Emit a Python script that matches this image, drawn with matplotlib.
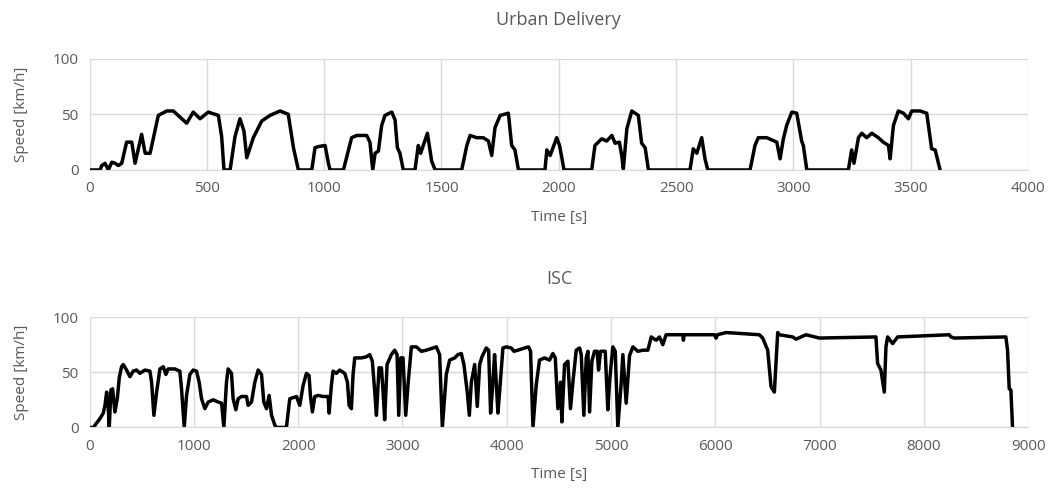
import numpy as np
import matplotlib.pyplot as plt

# ======================================================
# DADOS
# ======================================================
t_urban = [0, 45, 52, 66, 80, 95, 109, 123, 137, 158, 180, 194, 222, 237, 258, 293, 329, 357,
           414, 442, 471, 506, 549, 563, 573, 599, 620, 641, 658, 670, 698, 734, 769, 812,
           847, 869, 890, 947, 961, 975, 1004, 1018, 1025, 1082, 1117, 1139, 1181, 1195, 1207,
           1217, 1231, 1245, 1259, 1288, 1302, 1312, 1323, 1337, 1387, 1401, 1411, 1440, 1458,
           1473, 1586, 1608, 1622, 1650, 1678, 1700, 1714, 1728, 1750, 1785, 1799, 1813, 1828,
           1941, 1949, 1963, 1991, 2003, 2012, 2022, 2140, 2154, 2183, 2204, 2226, 2240, 2258,
           2268, 2275, 2290, 2311, 2339, 2353, 2368, 2382, 2559, 2573, 2588, 2609, 2623, 2635,
           2815, 2836, 2850, 2886, 2929, 2943, 2957, 2971, 2993, 3014, 3035, 3042, 3057, 3234,
           3248, 3258, 3277, 3291, 3312, 3334, 3362, 3383, 3405, 3412, 3426, 3447, 3469, 3490,
           3504, 3540, 3568, 3589, 3604, 3625]
v_urban = [0, 0, 4, 6, 0, 7, 6, 4, 6, 25, 25, 6, 32, 15, 15, 49, 53, 53,
           42, 52, 46, 52, 49, 30, 0, 0, 30, 46, 35, 11, 29, 44, 49, 53,
           50, 20, 0, 0, 20, 21, 22, 6, 0, 0, 29, 31, 31, 25, 0,
           15, 17, 40, 49, 52, 45, 20, 15, 0, 0, 22, 15, 33, 8,
           0, 0, 22, 31, 29, 29, 26, 13, 38, 49, 51, 22, 18, 0,
           0, 18, 13, 29, 22, 12, 0, 0, 22, 28, 26, 31, 24, 25,
           13, 1, 37, 53, 49, 24, 20, 0, 0, 19, 15, 29, 10, 0,
           0, 22, 29, 29, 25, 10, 28, 40, 52, 51, 26, 22, 0, 0,
           18, 6, 29, 33, 29, 33, 29, 25, 22, 10, 40, 53, 51, 46,
           53, 53, 51, 19, 18, 0]

t_isc = [0, 40, 51, 99, 131, 147, 163, 179, 188, 204, 220, 242, 265, 284, 306, 322, 354, 386,
         418, 450, 482, 530, 578, 594, 616, 642, 674, 706, 731, 753, 817, 865, 881, 907, 929,
         961, 993, 1025, 1050, 1073, 1105, 1137, 1185, 1233, 1265, 1287, 1312, 1328, 1360,
         1376, 1402, 1424, 1456, 1504, 1520, 1552, 1584, 1616, 1648, 1670, 1696, 1721, 1744,
         1776, 1792, 1887, 1919, 1983, 2015, 2047, 2079, 2104, 2117, 2136, 2159, 2191, 2239,
         2287, 2296, 2318, 2334, 2366, 2398, 2446, 2472, 2488, 2510, 2526, 2542, 2606, 2654,
         2686, 2711, 2734, 2750, 2775, 2798, 2814, 2829, 2852, 2893, 2925, 2948, 2964, 2983,
         3005, 3031, 3053, 3085, 3133, 3181, 3229, 3325, 3356, 3382, 3420, 3452, 3500, 3532,
         3564, 3589, 3621, 3641, 3660, 3692, 3717, 3740, 3762, 3803, 3826, 3845, 3867, 3883,
         3899, 3915, 3931, 3963, 3995, 4043, 4069, 4107, 4171, 4209, 4228, 4251, 4283, 4314,
         4362, 4410, 4442, 4465, 4490, 4516, 4528, 4554, 4586, 4611, 4634, 4666, 4698, 4714,
         4739, 4762, 4778, 4794, 4816, 4841, 4867, 4880, 4899, 4921, 4944, 4969, 4985, 5017,
         5040, 5065, 5097, 5113, 5145, 5177, 5209, 5257, 5305, 5353, 5385, 5433, 5464, 5496,
         5528, 5688, 5694, 5700, 5784, 5991, 6007, 6020, 6103, 6422, 6454, 6502, 6534, 6566,
         6598, 6614, 6742, 6774, 6869, 6997, 7540, 7556, 7588, 7620, 7636, 7652, 7700, 7748,
         8243, 8259, 8291, 8786, 8802, 8818, 8834, 8850]
v_isc = [0, 0, 2, 8, 13, 20, 32, 17, 0, 34, 35, 14, 26, 45, 55, 57, 52, 46,
         51, 52, 49, 52, 51, 41, 11, 32, 53, 55, 48, 53, 53, 51, 35, 0, 29,
         48, 52, 51, 41, 26, 17, 23, 25, 23, 22, 0, 41, 53, 49,
         26, 16, 26, 28, 28, 20, 23, 41, 52, 48, 23, 17, 29, 11,
         2, 0, 0, 26, 28, 20, 38, 49, 47, 29, 14, 28, 29, 28,
         28, 13, 38, 51, 49, 52, 49, 41, 20, 17, 48, 63, 63, 64,
         66, 60, 32, 11, 54, 54, 32, 7, 57, 66, 70, 66, 11, 63,
         63, 11, 39, 73, 73, 69, 70, 73, 66, 0, 48, 61, 63, 66,
         67, 57, 32, 11, 41, 57, 19, 57, 64, 72, 70, 13, 41, 66,
         41, 13, 32, 72, 73, 72, 69, 70, 72, 73, 69, 0, 39, 61,
         63, 61, 67, 63, 17, 41, 5, 57, 60, 17, 41, 70, 72, 66,
         11, 63, 69, 14, 60, 69, 69, 52, 69, 69, 69, 16, 41, 73,
         69, 0, 40, 66, 22, 65, 73, 69, 70, 70, 82, 79, 82, 75,
         84, 84, 79, 84, 84, 84, 81, 84, 86, 84, 81, 70, 37, 32,
         86, 84, 82, 80, 84, 81, 82, 58, 52, 32, 73, 82, 76, 82,
         84, 82, 81, 82, 70, 35, 34, 0]

titulos = ["Urban Delivery", "ISC"]
x_max = [4000, 9000]
x_passo = [500, 1000]

# ======================================================
# FIGURA
# ======================================================
plt.rcParams['font.family'] = ['Open Sans', 'DejaVu Sans']
cinza = '#595959'

fig = plt.figure(figsize=(10.51, 4.97), dpi=100)
ax1 = fig.add_axes([0.0852, 0.658, 0.893, 0.224])
ax2 = fig.add_axes([0.0853, 0.140, 0.893, 0.222])

for ax, t, v, titulo, xm, xp in zip([ax1, ax2], [t_urban, t_isc], [v_urban, v_isc],
                                    titulos, x_max, x_passo):
    ax.plot(t, v, color='black', linewidth=2.5, solid_joinstyle='round')
    ax.set_xlim(0, xm)
    ax.set_ylim(0, 100)
    ax.set_xticks(np.arange(0, xm + 1, xp))
    ax.set_yticks([0, 50, 100])
    ax.grid(True, color='#d9d9d9', linewidth=1)
    ax.set_axisbelow(True)
    for s in ['top', 'right', 'left']:
        ax.spines[s].set_visible(False)
    ax.spines['bottom'].set_color('#d9d9d9')
    ax.tick_params(length=0, labelsize=11, colors=cinza, pad=8)
    ax.set_xlabel('Time [s]', fontsize=11, color=cinza, labelpad=10)
    ax.set_ylabel('Speed [km/h]', fontsize=11, color=cinza, labelpad=17)
    ax.set_title(titulo, fontsize=13, color=cinza, pad=24)

fig.savefig('out.png', dpi=100)
